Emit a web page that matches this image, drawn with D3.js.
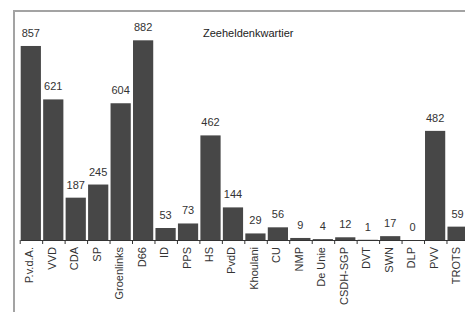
<!DOCTYPE html>
<html>
<head>
<meta charset="utf-8">
<script src="https://cdn.jsdelivr.net/npm/d3@7"></script>
<style>
  body { margin: 0; background: #fff; overflow: hidden; }
  svg { display: block; font-family: "Liberation Sans", Arial, sans-serif; }
</style>
</head>
<body>
<div id="chart"></div>
<script>
const parties = ["P.v.d.A.", "VVD", "CDA", "SP", "Groenlinks", "D66", "ID", "PPS", "HS", "PvdD",
  "Khoulani", "CU", "NMP", "De Unie", "CSDH-SGP", "DVT", "SWN", "DLP", "PVV", "TROTS"];
const votes = [857, 621, 187, 245, 604, 882, 53, 73, 462, 144,
  29, 56, 9, 4, 12, 1, 17, 0, 482, 59];
const title = "Zeeheldenkwartier";

let dim = { width: 465, height: 312 };

let svg = d3.select("#chart").append("svg")
  .attr("width", dim.width)
  .attr("height", dim.height);

// frame (cut off on right and bottom, as in the source)
svg.append("path")
  .attr("d", "M14,312 V11 H465")
  .attr("fill", "none")
  .attr("stroke", "#a3a3a3")
  .attr("stroke-width", 2);

const x = d3.scaleBand()
  .domain(parties)
  .range([20.7, 20.7 + 22.35 * parties.length])
  .paddingInner(0.1)
  .paddingOuter(0)
  .align(0);

const baseY = 240;
const y = d3.scaleLinear().domain([0, 1000]).range([baseY, baseY - 226.4]);

let g = svg.append("g");

g.selectAll("rect.bar")
  .data(parties)
  .join("rect")
  .attr("class", "bar")
  .attr("x", (d) => x(d))
  .attr("y", (d, i) => y(votes[i]))
  .attr("width", x.bandwidth())
  .attr("height", (d, i) => baseY - y(votes[i]))
  .attr("fill", "#474747");

// baseline + ticks at band starts
g.append("line")
  .attr("x1", x.range()[0]).attr("x2", dim.width)
  .attr("y1", baseY + 0.5).attr("y2", baseY + 0.5)
  .attr("stroke", "#333");

g.selectAll("line.tick")
  .data(parties)
  .join("line")
  .attr("class", "tick")
  .attr("x1", (d) => x(d) - 0.5).attr("x2", (d) => x(d) - 0.5)
  .attr("y1", baseY).attr("y2", baseY + 4)
  .attr("stroke", "#333");

// value labels
g.selectAll("text.val")
  .data(parties)
  .join("text")
  .attr("class", "val")
  .attr("x", (d) => x(d) + x.bandwidth() / 2)
  .attr("y", (d, i) => y(votes[i]) - 9)
  .attr("text-anchor", "middle")
  .attr("font-size", 11)
  .attr("fill", "#333")
  .text((d, i) => votes[i]);

// category labels, rotated
g.selectAll("text.cat")
  .data(parties)
  .join("text")
  .attr("class", "cat")
  .attr("transform", (d) => `translate(${x(d) + x.bandwidth() / 2 + 2.5},${baseY + 7}) rotate(-90)`)
  .attr("text-anchor", "end")
  .attr("font-size", 11)
  .attr("fill", "#333")
  .text((d) => d);

svg.append("text")
  .attr("x", 203)
  .attr("y", 37)
  .attr("font-size", 11)
  .attr("fill", "#222")
  .text(title);
</script>
</body>
</html>
